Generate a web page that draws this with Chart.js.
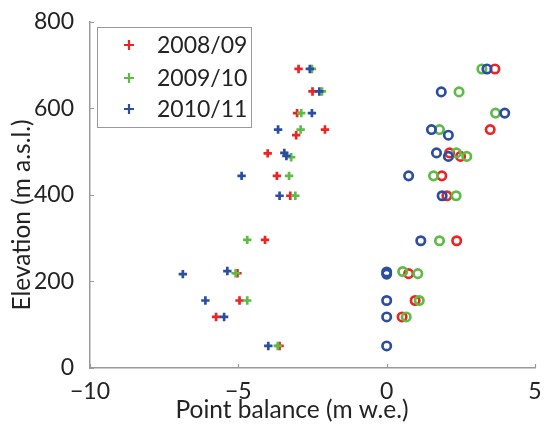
<!DOCTYPE html>
<html>
<head>
<meta charset="utf-8">
<script src="https://cdn.jsdelivr.net/npm/chart.js@4"></script>
<style>
  html, body { margin: 0; padding: 0; background: #fff; }
  #wrap { width: 545px; height: 426px; position: relative; }
</style>
</head>
<body>
<div id="wrap"><canvas id="chart"></canvas></div>
<script>
// series names
const years = ["2008/09", "2009/10", "2010/11"];

// point balance (m w.e.) and elevation (m a.s.l.) per year
const bal0809 = [-2.97, -2.50, -3.02, -2.08, -3.05, -4.01, -3.70, -3.25, -4.10, -5.03, -4.96, -5.75, -3.61,
                 3.65, 3.49, 2.12, 2.49, 1.86, 2.03, 2.36, 0.74, 0.96, 0.52];
const elev0809 = [691, 639, 589, 551, 538, 496, 444, 398, 296, 219, 156, 118, 51,
                  691, 551, 497, 489, 444, 398, 294, 218, 156, 118];

const bal0910 = [-2.52, -2.18, -2.88, -2.90, -3.22, -3.29, -3.08, -4.70, -5.09, -4.70, -3.67,
                 3.21, 2.44, 3.67, 1.78, 2.35, 2.70, 1.58, 2.34, 1.78, 0.54, 1.05, 1.10, 0.66];
const elev0910 = [691, 639, 589, 551, 487, 444, 398, 296, 219, 156, 51,
                  691, 638, 589, 551, 497, 489, 444, 398, 294, 223, 218, 156, 118];

const bal1011 = [-2.59, -2.27, -2.52, -3.66, -3.45, -3.38, -4.89, -3.61, -6.87, -5.37, -6.11, -5.48, -3.99,
                 3.38, 1.84, 3.98, 1.51, 2.08, 1.68, 2.08, 0.74, 1.87, 1.15, 0, 0, 0, 0, 0];
const elev1011 = [691, 639, 589, 551, 497, 490, 444, 398, 217, 224, 156, 118, 51,
                  691, 638, 589, 551, 538, 497, 489, 444, 398, 294, 222, 217, 156, 118, 51];

// axis ticks
const xTicks = [-10, -5, 0, 5];
const yTicks = [0, 200, 400, 600, 800];

const colors = ["#ee2424", "#5fbb46", "#2c4ea2"];
const FONT = "Lato, 'Open Sans', sans-serif";
const TEXT = "#232323";
const AXIS = "#9a9a9a";

function toPoints(xs, ys) {
  return xs.map((x, i) => ({ x: x, y: ys[i] }));
}

const series = [[bal0809, elev0809], [bal0910, elev0910], [bal1011, elev1011]];

const datasets = series.map((s, i) => ({
  label: years[i],
  data: toPoints(s[0], s[1]),
  showLine: false,
  order: 3 - i,
  borderColor: colors[i],
  backgroundColor: "rgba(0,0,0,0)",
  pointStyle: (ctx) => (ctx.raw && ctx.raw.x < 0 ? "cross" : "circle"),
  pointRadius: 4.2,
  pointBorderWidth: 2.7,
}));

const minus = (v) => (v < 0 ? "\u2212" + Math.abs(v) : String(v));

// inward ticks, axis titles and boxed legend
const extras = {
  id: "extras",
  afterDraw(chart) {
    const c = chart.ctx;
    const xs = chart.scales.x, ys = chart.scales.y;
    const a = chart.chartArea;
    c.save();
    c.strokeStyle = AXIS;
    c.lineWidth = 1.2;
    c.beginPath();
    xTicks.forEach(v => {
      const p = Math.round(xs.getPixelForValue(v)) + 0.5;
      c.moveTo(p, a.bottom); c.lineTo(p, a.bottom - 4);
    });
    yTicks.forEach(v => {
      const p = Math.round(ys.getPixelForValue(v)) + 0.5;
      c.moveTo(a.left, p); c.lineTo(a.left + 4, p);
    });
    c.stroke();

    // axis titles
    c.fillStyle = TEXT;
    c.font = "24.5px " + FONT;
    c.textAlign = "center";
    c.textBaseline = "middle";
    c.fillText("Point balance (m w.e.)", 292, 410);
    c.save();
    c.translate(22, 215);
    c.rotate(-Math.PI / 2);
    c.fillText("Elevation (m a.s.l.)", 0, 0);
    c.restore();

    // legend
    const lx = 97.5, ly = 27.5, lw = 154, lh = 100;
    c.fillStyle = "#fff";
    c.fillRect(lx, ly, lw, lh);
    c.strokeStyle = AXIS;
    c.lineWidth = 1;
    c.strokeRect(lx, ly, lw, lh);
    const rows = [45, 78, 109];
    years.forEach((y, i) => {
      c.strokeStyle = colors[i];
      c.lineWidth = 2.2;
      c.beginPath();
      c.moveTo(124, rows[i]); c.lineTo(134, rows[i]);
      c.moveTo(129, rows[i] - 5); c.lineTo(129, rows[i] + 5);
      c.stroke();
      c.fillStyle = TEXT;
      c.font = "23px " + FONT;
      c.textAlign = "left";
      c.fillText(y, 157, rows[i] + 1);
    });
    c.restore();
  }
};

new Chart(document.getElementById("chart"), {
  type: "scatter",
  data: { datasets },
  options: {
    responsive: true,
    maintainAspectRatio: false,
    animation: false,
    layout: { padding: { left: 0, right: 10, top: 20, bottom: 0 } },
    plugins: {
      legend: { display: false },
      tooltip: { enabled: false },
    },
    scales: {
      x: {
        type: "linear",
        min: -10, max: 5,
        afterBuildTicks: (s) => { s.ticks = xTicks.map(v => ({ value: v })); },
        afterFit: (s) => { s.height = 58; },
        border: { display: true, color: AXIS, width: 1.5 },
        grid: { display: false },
        ticks: {
          color: TEXT, padding: 2,
          font: { family: FONT, size: 23 },
          maxRotation: 0,
          callback: (v) => minus(v),
        },
      },
      y: {
        type: "linear",
        min: 0, max: 800,
        afterBuildTicks: (s) => { s.ticks = yTicks.map(v => ({ value: v })); },
        afterFit: (s) => { s.width = 90; },
        border: { display: true, color: AXIS, width: 1.5 },
        grid: { display: false },
        ticks: {
          color: TEXT, padding: 8,
          font: { family: FONT, size: 23 },
          callback: (v) => minus(v),
        },
      },
    },
  },
  plugins: [extras],
});
</script>
</body>
</html>
